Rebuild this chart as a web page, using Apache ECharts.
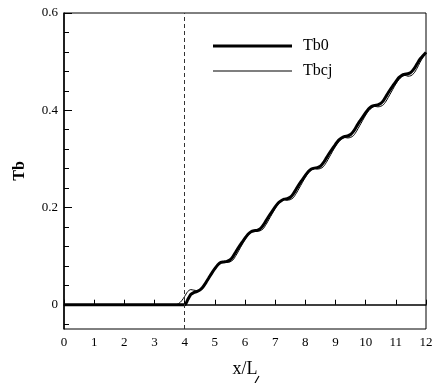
<!DOCTYPE html>
<html>
<head>
<meta charset="utf-8">
<script src="https://cdn.jsdelivr.net/npm/echarts@6/dist/echarts.min.js"></script>
<style>html,body{margin:0;padding:0;background:#fff}#c{width:439px;height:383px}</style>
</head>
<body>
<div id="c"></div>
<script>
// x/L values and Tb values
var xTb0 = [0, 4.0, 4.1, 4.2, 4.3, 4.4, 4.5, 4.6, 4.7, 4.8, 4.9,
  5.0, 5.1, 5.2, 5.3, 5.4, 5.5, 5.6, 5.7, 5.8, 5.9,
  6.0, 6.1, 6.2, 6.3, 6.4, 6.5, 6.6, 6.7, 6.8, 6.9,
  7.0, 7.1, 7.2, 7.3, 7.4, 7.5, 7.6, 7.7, 7.8, 7.9,
  8.0, 8.1, 8.2, 8.3, 8.4, 8.5, 8.6, 8.7, 8.8, 8.9,
  9.0, 9.1, 9.2, 9.3, 9.4, 9.5, 9.6, 9.7, 9.8, 9.9,
  10.0, 10.1, 10.2, 10.3, 10.4, 10.5, 10.6, 10.7, 10.8, 10.9,
  11.0, 11.1, 11.2, 11.3, 11.4, 11.5, 11.6, 11.7, 11.8, 11.9, 12.0];
var yTb0 = [0, 0.000, 0.010, 0.021, 0.025, 0.027, 0.030, 0.036, 0.045, 0.055, 0.065,
  0.074, 0.082, 0.087, 0.088, 0.089, 0.092, 0.099, 0.109, 0.119, 0.128,
  0.137, 0.145, 0.150, 0.152, 0.153, 0.156, 0.163, 0.173, 0.183, 0.192,
  0.201, 0.209, 0.214, 0.217, 0.218, 0.221, 0.228, 0.238, 0.248, 0.257,
  0.266, 0.274, 0.279, 0.281, 0.282, 0.285, 0.292, 0.302, 0.312, 0.321,
  0.330, 0.338, 0.343, 0.346, 0.347, 0.350, 0.357, 0.367, 0.377, 0.386,
  0.395, 0.403, 0.408, 0.410, 0.411, 0.414, 0.421, 0.431, 0.441, 0.450,
  0.459, 0.467, 0.472, 0.474, 0.475, 0.478, 0.485, 0.495, 0.505, 0.512, 0.519];
var xTbcj = [0, 3.7, 3.8, 3.9, 4.0, 4.1, 4.2, 4.3, 4.4, 4.5, 4.6, 4.7, 4.8, 4.9,
  5.0, 5.1, 5.2, 5.3, 5.4, 5.5, 5.6, 5.7, 5.8, 5.9,
  6.0, 6.1, 6.2, 6.3, 6.4, 6.5, 6.6, 6.7, 6.8, 6.9,
  7.0, 7.1, 7.2, 7.3, 7.4, 7.5, 7.6, 7.7, 7.8, 7.9,
  8.0, 8.1, 8.2, 8.3, 8.4, 8.5, 8.6, 8.7, 8.8, 8.9,
  9.0, 9.1, 9.2, 9.3, 9.4, 9.5, 9.6, 9.7, 9.8, 9.9,
  10.0, 10.1, 10.2, 10.3, 10.4, 10.5, 10.6, 10.7, 10.8, 10.9,
  11.0, 11.1, 11.2, 11.3, 11.4, 11.5, 11.6, 11.7, 11.8, 11.9, 12.0];
var yTbcj = [0, 0.000, 0.002, 0.008, 0.017, 0.027, 0.031, 0.030, 0.029, 0.031, 0.036, 0.044, 0.053, 0.063,
  0.072, 0.080, 0.086, 0.088, 0.087, 0.088, 0.092, 0.101, 0.112, 0.123,
  0.134, 0.143, 0.149, 0.152, 0.151, 0.152, 0.156, 0.165, 0.176, 0.187,
  0.198, 0.207, 0.213, 0.216, 0.215, 0.216, 0.220, 0.229, 0.240, 0.251,
  0.262, 0.271, 0.277, 0.280, 0.279, 0.280, 0.284, 0.293, 0.304, 0.315,
  0.326, 0.335, 0.341, 0.344, 0.343, 0.344, 0.348, 0.357, 0.368, 0.379,
  0.390, 0.399, 0.405, 0.408, 0.407, 0.408, 0.412, 0.421, 0.432, 0.443,
  0.454, 0.463, 0.469, 0.472, 0.470, 0.471, 0.476, 0.486, 0.498, 0.509, 0.518];
var yMajorTicks = [0, 0.2, 0.4, 0.6];
var yMinorTicks = [-0.04, 0.04, 0.08, 0.12, 0.16, 0.24, 0.28, 0.32, 0.36, 0.44, 0.48, 0.52, 0.56];
var xTicks = [0, 1, 2, 3, 4, 5, 6, 7, 8, 9, 10, 11, 12];
var refX = 4;

function pairs(xs, ys) { return xs.map(function (x, i) { return [x, ys[i]]; }); }
var FONT = 'Liberation Serif';
var chart = echarts.init(document.getElementById('c'), null, { renderer: 'canvas' });
var legendText = { fontFamily: FONT, fontSize: 16, color: '#000', padding: [0, 0, 0, 6] };
chart.setOption({
  animation: false,
  backgroundColor: '#fff',
  grid: { left: 64, right: 13, top: 13, bottom: 54, show: true, borderColor: '#000', borderWidth: 1, backgroundColor: 'transparent' },
  legend: [{
    left: 208, top: 33, itemWidth: 79, itemHeight: 3, icon: 'rect',
    textStyle: legendText, data: ['Tb0'], selectedMode: false
  }, {
    left: 208, top: 58, itemWidth: 79, itemHeight: 1, icon: 'rect',
    textStyle: legendText, data: ['Tbcj'], selectedMode: false
  }],
  xAxis: {
    type: 'value', min: 0, max: 12, interval: 1,
    name: 'x/L', nameLocation: 'middle', nameGap: 31,
    nameTextStyle: { fontFamily: FONT, fontSize: 18, color: '#000' },
    axisLine: { lineStyle: { color: '#000', width: 1.5 } },
    axisTick: { inside: true, length: 5, lineStyle: { color: '#000', width: 1 }, customValues: xTicks },
    axisLabel: { fontFamily: FONT, fontSize: 13, color: '#000', margin: 7, customValues: xTicks },
    splitLine: { show: false }
  },
  yAxis: [{
    type: 'value', min: -0.05, max: 0.6,
    name: 'Tb', nameLocation: 'middle', nameGap: 36, nameRotate: 90,
    nameTextStyle: { fontFamily: FONT, fontSize: 16, fontWeight: 'bold', color: '#000' },
    axisLine: { show: true, lineStyle: { color: '#000', width: 1.5 } },
    axisTick: { show: true, inside: true, length: 8, lineStyle: { color: '#000', width: 1 }, customValues: yMajorTicks },
    axisLabel: { fontFamily: FONT, fontSize: 13, color: '#000', margin: 6, customValues: yMajorTicks,
      formatter: function (v) { return String(v); } },
    splitLine: { show: false }
  }, {
    type: 'value', min: -0.05, max: 0.6, position: 'left', offset: 0,
    axisLine: { show: false },
    axisTick: { show: true, inside: true, length: 5, lineStyle: { color: '#000', width: 1 }, customValues: yMinorTicks },
    axisLabel: { show: false },
    splitLine: { show: false }
  }],
  series: [{
    name: 'Tb0', type: 'line', data: pairs(xTb0, yTb0), symbol: 'none', smooth: 0.25,
    lineStyle: { color: '#000', width: 3 }, itemStyle: { color: '#000' }, z: 3,
    markLine: {
      silent: true, symbol: 'none', label: { show: false },
      lineStyle: { color: '#333', width: 1, type: [4, 3] },
      data: [{ xAxis: refX }]
    }
  }, {
    name: 'Tbcj', type: 'line', data: pairs(xTbcj, yTbcj), symbol: 'none', smooth: 0.25,
    lineStyle: { color: '#000', width: 1 }, itemStyle: { color: '#000' }, z: 4
  }],
  graphic: [{
    type: 'line', shape: { x1: 259, y1: 376, x2: 255, y2: 383 },
    style: { stroke: '#000', lineWidth: 1.2 }
  }]
});
</script>
</body>
</html>
